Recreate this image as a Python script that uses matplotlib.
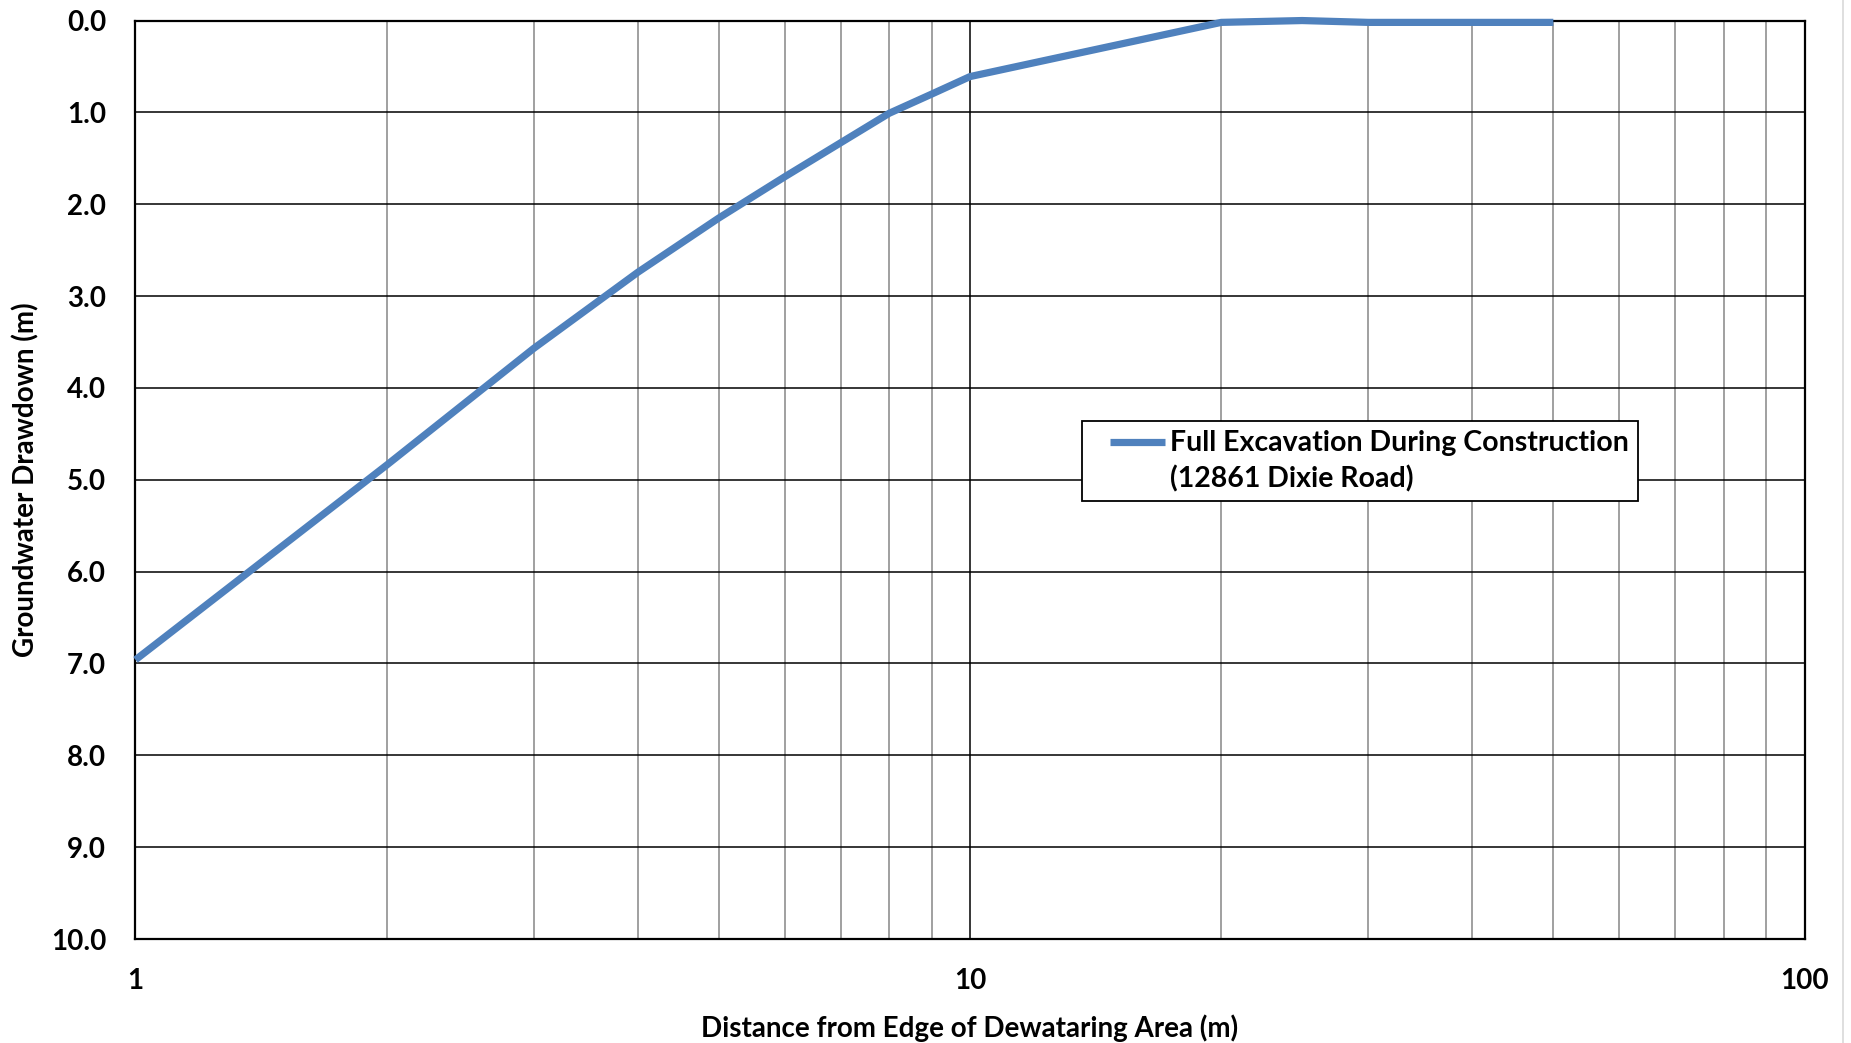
import numpy as np
import matplotlib.pyplot as plt
from matplotlib.ticker import FixedLocator, FormatStrFormatter, NullFormatter
from matplotlib.lines import Line2D
from matplotlib.legend_handler import HandlerLine2D

# distance from edge of dewatering area (m) and drawdown (m)
distance = [1, 2, 3, 4, 5, 6, 7, 8, 9, 10, 20, 25, 30, 40, 50]
drawdown = [6.96, 4.84, 3.57, 2.74, 2.15, 1.70, 1.33, 1.01, 0.80, 0.61, 0.02, 0.0, 0.02, 0.02, 0.02]
series_label = 'Full Excavation During Construction\n(12861 Dixie Road)'

y_ticks = np.arange(0, 11, 1)
x_major = [1, 10, 100]
x_minor = [m * d for d in (1, 10) for m in range(2, 10)]

FS = 20


class FirstLineHandler(HandlerLine2D):
    """legend line drawn next to the first text line, like Excel does"""

    def get_xdata(self, legend, xdescent, ydescent, width, height, fontsize):
        x = np.array([-xdescent + width * 0.26, -xdescent + width])
        return x, x

    def create_artists(self, legend, orig_handle, xdescent, ydescent,
                       width, height, fontsize, trans):
        arts = super().create_artists(legend, orig_handle, xdescent, ydescent,
                                      width, height, fontsize, trans)
        for a in arts:
            a.set_ydata(np.asarray(a.get_ydata()) + 0.7 * fontsize)
        return arts


plt.rcParams['font.family'] = ['Lato', 'DejaVu Sans']
plt.rcParams['font.weight'] = 'bold'

fig = plt.figure(figsize=(18.51, 10.43), dpi=100)
ax = fig.add_axes([0.0732, 0.0997, 0.9017, 0.8806])

ax.set_xscale('log')
ax.set_xlim(1, 100)
ax.set_ylim(10, 0)

ax.xaxis.set_major_locator(FixedLocator(x_major))
ax.xaxis.set_minor_locator(FixedLocator(x_minor))
ax.xaxis.set_major_formatter(FormatStrFormatter('%d'))
ax.xaxis.set_minor_formatter(NullFormatter())
ax.set_yticks(y_ticks)
ax.yaxis.set_major_formatter(FormatStrFormatter('%.1f'))

# grid: black major lines, grey minor verticals
ax.grid(True, which='major', axis='both', color='black', linewidth=1.1)
ax.grid(True, which='minor', axis='x', color='#868686', linewidth=1.1)
ax.set_axisbelow(True)

ax.tick_params(which='both', length=0)
ax.tick_params(axis='y', labelsize=FS, pad=21)
ax.tick_params(axis='x', labelsize=FS, pad=21)
for lab in ax.get_xticklabels() + ax.get_yticklabels():
    lab.set_fontweight('bold')

for sp in ax.spines.values():
    sp.set_color('black')
    sp.set_linewidth(1.6)

ax.plot(distance, drawdown, color='#4F81BD', linewidth=5.2, solid_capstyle='butt',
        label=series_label, clip_on=False, zorder=3)

ax.set_xlabel('Distance from Edge of Dewataring Area (m)', fontsize=FS, fontweight='bold')
ax.xaxis.label.set_va('center')
ax.xaxis.set_label_coords(0.5, -0.0969)
ax.set_ylabel('Groundwater Drawdown (m)', fontsize=FS, fontweight='bold')
ax.yaxis.label.set_va('center')
ax.yaxis.set_label_coords(-0.0655, 0.5)

leg = ax.legend(loc='upper left', bbox_to_anchor=(0.567, 0.564), borderaxespad=0,
                frameon=True, fancybox=False, shadow=False,
                handlelength=2.63, handletextpad=0.18, borderpad=0.3,
                prop={'weight': 'bold', 'size': 20.5},
                handler_map={Line2D: FirstLineHandler()})
leg.get_frame().set_edgecolor('black')
leg.get_frame().set_linewidth(1.3)
leg.get_frame().set_alpha(1)
for t in leg.get_texts():
    t.set_linespacing(1.45)

# thin light border at the right edge of the image
fig.add_artist(Line2D([0.9957, 0.9957], [0, 1], transform=fig.transFigure,
                      color='#d9d9d9', linewidth=1.2))

fig.savefig('out.png', dpi=100)
